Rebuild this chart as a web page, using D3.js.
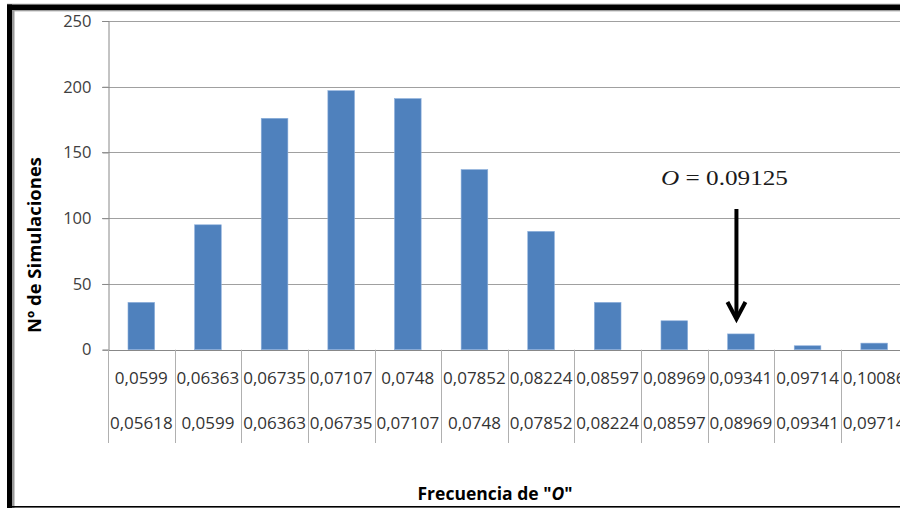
<!DOCTYPE html>
<html><head><meta charset="utf-8">
<script src="https://cdn.jsdelivr.net/npm/d3@7"></script>
<style>html,body{margin:0;padding:0;background:#fff;overflow:hidden}</style>
</head><body>
<script>
const upperLabels = ["0,0599","0,06363","0,06735","0,07107","0,0748","0,07852","0,08224","0,08597","0,08969","0,09341","0,09714","0,10086"];
const lowerLabels = ["0,05618","0,0599","0,06363","0,06735","0,07107","0,0748","0,07852","0,08224","0,08597","0,08969","0,09341","0,09714"];
const counts = [36,95,176,197,191,137,90,36,22,12,3,5];
const yTicks = [0,50,100,150,200,250];
const annotationValue = "0.09125";
const annotationCategory = 9;

const W = 900, H = 508;
const svg = d3.select("body").append("svg").attr("width", W).attr("height", H);

const idx = d3.range(counts.length);
const x = d3.scaleBand().domain(idx).range([108, 907.5]).padding(0);
const y = d3.scaleLinear().domain([0, 250]).range([349.7, 21]);

// frame
svg.append("rect").attr("x",0).attr("y",0).attr("width",W).attr("height",H).attr("fill","#fff");
svg.append("rect").attr("x",7).attr("y",3.5).attr("width",W-7).attr("height",1).attr("fill","#c8c8c8");
svg.append("rect").attr("x",7).attr("y",4.5).attr("width",W-7).attr("height",6).attr("fill","#000");
svg.append("rect").attr("x",12).attr("y",10.5).attr("width",W-12).attr("height",1).attr("fill","#bbb");
svg.append("rect").attr("x",7).attr("y",4.5).attr("width",5).attr("height",H).attr("fill","#000");
svg.append("rect").attr("x",12).attr("y",10.5).attr("width",2.5).attr("height",H).attr("fill","#9a9a9a");
svg.append("rect").attr("x",7).attr("y",506).attr("width",W-7).attr("height",1.6).attr("fill","#000");

// gridlines
svg.append("g").selectAll("line").data(yTicks.filter(d=>d>0)).join("line")
  .attr("x1",102).attr("x2",W).attr("y1",d=>Math.round(y(d))+0.5).attr("y2",d=>Math.round(y(d))+0.5)
  .attr("stroke","#a0a0a0").attr("stroke-width",1);

// y axis
const yAxis = d3.axisLeft(y).tickValues(yTicks).tickSize(6).tickPadding(11).tickFormat(d3.format("d"));
const gy = svg.append("g").attr("transform","translate(108.5,0)").call(yAxis);
gy.select(".domain").attr("stroke","#888");
gy.selectAll(".tick line").attr("stroke","#888");
gy.selectAll(".tick text").attr("fill","#404040").style("font-family","'Open Sans'").style("font-size","16.5px");

// bars
const bw = x.bandwidth()*0.4;
svg.append("g").selectAll("rect").data(idx).join("rect")
  .attr("x", i => x(i) + (x.bandwidth()-bw)/2)
  .attr("y", i => y(counts[i]))
  .attr("width", bw)
  .attr("height", i => y(0) - y(counts[i]))
  .attr("fill","#4f81bd").attr("stroke","#8eb0dc").attr("stroke-width",0.6);

// x axis line
svg.append("line").attr("x1",108).attr("x2",W).attr("y1",Math.round(y(0))+0.5).attr("y2",Math.round(y(0))+0.5)
  .attr("stroke","#888");
// category separators
const bounds = idx.map(i => x(i)).concat([x(idx.length-1)+x.bandwidth()]);
svg.append("g").selectAll("line").data(bounds).join("line")
  .attr("x1",d=>Math.round(d)+0.5).attr("x2",d=>Math.round(d)+0.5)
  .attr("y1",y(0)).attr("y2",443).attr("stroke","#b0b0b0");

const lab = svg.append("g").style("font-family","'Open Sans'").style("font-size","17px").attr("fill","#333");
lab.selectAll("text.u").data(idx).join("text").attr("class","u")
  .attr("x", i => x(i)+x.bandwidth()/2).attr("y",384).attr("text-anchor","middle").text(i=>upperLabels[i]);
lab.selectAll("text.l").data(idx).join("text").attr("class","l")
  .attr("x", i => x(i)+x.bandwidth()/2).attr("y",429).attr("text-anchor","middle").text(i=>lowerLabels[i]);

// axis titles
svg.append("text").attr("transform","translate(41,245) rotate(-90)").attr("text-anchor","middle")
  .style("font-family","'Open Sans'").style("font-size","18px").style("font-weight","bold").attr("fill","#000")
  .attr("textLength",176).attr("lengthAdjust","spacingAndGlyphs")
  .text("Nº de Simulaciones");
const xt = svg.append("text").attr("x",495).attr("y",500).attr("text-anchor","middle")
  .style("font-family","'Open Sans'").style("font-size","17.5px").style("font-weight","bold").attr("fill","#000");
xt.append("tspan").text('Frecuencia de "');
xt.append("tspan").style("font-style","italic").text("O");
xt.append("tspan").text('"');

// annotation
const ax = x(annotationCategory) + x.bandwidth()/2 - 4.5;
const at = svg.append("text").attr("x",661).attr("y",185)
  .style("font-family","'Liberation Serif'").style("font-size","22px").attr("fill","#1a1a1a")
  .attr("textLength",127).attr("lengthAdjust","spacingAndGlyphs");
at.append("tspan").style("font-style","italic").text("O");
at.append("tspan").text(" = " + annotationValue);

svg.append("line").attr("x1",ax).attr("x2",ax).attr("y1",209).attr("y2",318)
  .attr("stroke","#000").attr("stroke-width",4);
svg.append("path").attr("d",`M${ax-9},${302} L${ax},${319} L${ax+9},${302}`)
  .attr("fill","none").attr("stroke","#000").attr("stroke-width",4).attr("stroke-linejoin","miter");
</script>
</body></html>
